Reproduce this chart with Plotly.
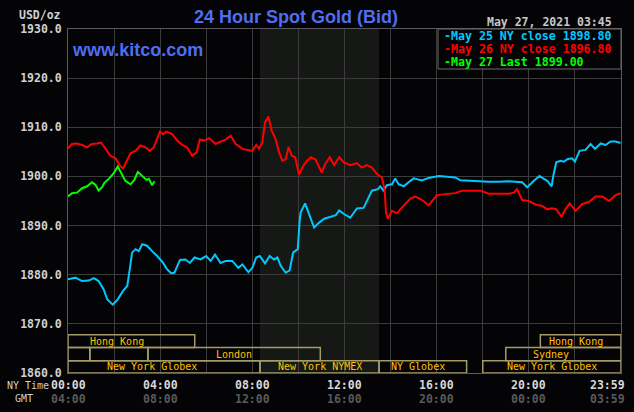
import plotly.graph_objects as go

# ---------------- data (NY time in hours, price USD/oz) ----------------
may25_hours = [0, 0.32, 0.61, 0.9, 1.12, 1.33, 1.55, 1.7, 1.94, 2.13, 2.39, 2.57, 2.68, 2.78, 2.93,
               3.07, 3.22, 3.43, 3.65, 3.87, 4.13, 4.3, 4.48, 4.62, 4.86, 5.1, 5.29, 5.49, 5.75, 6.0,
               6.19, 6.38, 6.62, 6.84, 7.13, 7.39, 7.57, 7.83, 8.0, 8.17, 8.32, 8.55, 8.75, 8.94, 9.09,
               9.23, 9.45, 9.62, 9.77, 9.97, 10.06, 10.1, 10.29, 10.46, 10.68, 10.9, 11.12, 11.41, 11.62,
               11.77, 11.99, 12.25, 12.54, 12.83, 12.97, 13.19, 13.45, 13.55, 13.7, 13.84, 14.06, 14.2,
               14.35, 14.57, 14.78, 15.0, 15.36, 15.65, 16.09, 16.52, 16.81, 17.03, 17.39, 17.9, 18.26,
               18.7, 19.13, 19.71, 19.93, 20.22, 20.46, 20.65, 20.8, 20.99, 21.06, 21.19, 21.38, 21.52,
               21.67, 21.88, 22.0, 22.2, 22.46, 22.68, 22.87, 23.12, 23.33, 23.55, 23.77, 23.98]
may25_price = [1879.05, 1879.4, 1878.7, 1878.8, 1879.3, 1878.7, 1877.0, 1875.0, 1873.9, 1874.8, 1876.7,
               1877.7, 1881.1, 1884.5, 1885.2, 1884.8, 1886.2, 1885.9, 1884.8, 1883.8, 1882.4, 1881.1,
               1880.3, 1880.4, 1883.0, 1883.1, 1882.4, 1883.5, 1883.1, 1883.8, 1882.8, 1884.1, 1882.4,
               1882.8, 1882.8, 1881.4, 1882.1, 1880.5, 1881.4, 1883.5, 1883.8, 1882.3, 1883.8, 1883.1,
               1883.5, 1881.8, 1880.4, 1880.9, 1884.5, 1885.2, 1891.3, 1892.7, 1894.5, 1892.3, 1889.6,
               1890.6, 1891.4, 1891.8, 1892.1, 1893.1, 1892.3, 1891.6, 1893.5, 1893.6, 1895.0, 1897.1,
               1897.4, 1898.0, 1897.1, 1898.2, 1898.4, 1899.6, 1898.4, 1898.0, 1898.8, 1899.6, 1899.2,
               1899.7, 1900.1, 1899.9, 1899.8, 1899.2, 1899.1, 1899.1, 1898.9, 1898.9, 1899.0, 1898.8,
               1897.8, 1899.1, 1900.1, 1899.5, 1899.1, 1898.0, 1900.1, 1902.9, 1903.2, 1903.0, 1903.5,
               1903.7, 1903.0, 1905.2, 1905.4, 1906.6, 1905.6, 1906.7, 1906.4, 1907.1, 1907.1, 1906.8]

may26_hours = [0, 0.17, 0.39, 0.61, 0.83, 1.04, 1.26, 1.43, 1.62, 1.84, 2.06, 2.25, 2.39, 2.57, 2.71,
               2.93, 3.14, 3.36, 3.55, 3.72, 3.84, 3.99, 4.13, 4.28, 4.52, 4.74, 4.96, 5.17, 5.39, 5.58,
               5.72, 5.9, 6.12, 6.41, 6.62, 6.84, 7.06, 7.28, 7.57, 7.86, 8.0, 8.17, 8.29, 8.43, 8.55,
               8.7, 8.84, 9.01, 9.16, 9.3, 9.45, 9.57, 9.71, 9.86, 10.03, 10.17, 10.32, 10.54, 10.75,
               11.01, 11.16, 11.36, 11.55, 11.77, 11.96, 12.25, 12.54, 12.75, 12.97, 13.19, 13.41, 13.62,
               13.74, 13.8, 13.88, 14.06, 14.28, 14.42, 14.64, 14.86, 15.07, 15.29, 15.48, 15.65, 15.87,
               16.01, 16.38, 16.81, 17.1, 17.9, 18.26, 18.7, 19.13, 19.35, 19.49, 19.71, 20.0, 20.29,
               20.58, 20.8, 21.01, 21.19, 21.42, 21.59, 21.77, 22.03, 22.32, 22.61, 22.9, 23.19, 23.48,
               23.77, 23.98]
may26_price = [1905.7, 1906.6, 1906.7, 1906.4, 1905.9, 1906.6, 1906.7, 1906.9, 1905.7, 1904.2, 1903.7,
               1902.2, 1901.6, 1903.2, 1904.7, 1905.2, 1906.3, 1905.9, 1905.2, 1905.9, 1907.3, 1909.1,
               1908.6, 1909.1, 1908.6, 1907.3, 1906.4, 1905.9, 1904.2, 1904.9, 1907.5, 1907.3, 1907.8,
               1906.6, 1907.1, 1907.5, 1908.3, 1906.6, 1905.6, 1905.4, 1905.2, 1906.4, 1905.6, 1906.9,
               1911.0, 1912.2, 1909.3, 1907.6, 1904.9, 1903.2, 1903.5, 1906.0, 1904.2, 1903.9, 1900.3,
               1901.8, 1902.9, 1903.9, 1903.4, 1900.8, 1902.5, 1903.9, 1902.3, 1903.9, 1902.9, 1902.3,
               1902.7, 1901.8, 1902.3, 1901.8, 1900.5, 1899.8, 1897.4, 1892.7, 1891.4, 1893.0, 1892.5,
               1893.3, 1894.4, 1895.5, 1895.9, 1895.4, 1894.8, 1894.1, 1895.4, 1896.2, 1896.4, 1896.6,
               1897.1, 1897.1, 1896.5, 1896.5, 1896.5, 1896.7, 1897.4, 1895.2, 1895.0, 1894.3, 1894.0,
               1893.3, 1893.5, 1893.3, 1891.8, 1893.3, 1894.5, 1893.0, 1894.4, 1894.8, 1895.9, 1895.9,
               1895.0, 1896.2, 1896.6]

may27_hours = [0, 0.17, 0.39, 0.61, 0.83, 1.04, 1.19, 1.33, 1.48, 1.58, 1.77, 1.96, 2.16, 2.3, 2.49,
               2.71, 2.88, 3.03, 3.22, 3.41, 3.51, 3.65, 3.75]
may27_price = [1895.9, 1896.6, 1896.7, 1897.6, 1898.0, 1898.8, 1898.3, 1897.1, 1897.8, 1898.7, 1899.5,
               1900.5, 1902.0, 1900.8, 1899.1, 1898.4, 1899.3, 1900.9, 1900.1, 1899.3, 1899.5, 1898.2,
               1899.0]

series_names = ["May 25 NY close 1898.80", "May 26 NY close 1896.80", "May 27 Last 1899.00"]
series_colors = ["#00c8ff", "#ff0000", "#00ff00"]

y_ticks = [1860, 1870, 1880, 1890, 1900, 1910, 1920, 1930]
ny_time_ticks = [0, 4, 8, 12, 16, 20]
ny_time_labels = ["00:00", "04:00", "08:00", "12:00", "16:00", "20:00"]
gmt_labels = ["04:00", "08:00", "12:00", "16:00", "20:00", "00:00"]

nymex_session = (8.33, 13.5)
# (label, start hour, end hour, row, label hour)
sessions = [
    ("Hong Kong", 0, 5.5, 2, 2.13),
    ("Hong Kong", 20.5, 24, 2, 22.05),
    ("", 0, 0.95, 1, None),
    ("", 0.95, 3.47, 1, None),
    ("London", 3.47, 10.95, 1, 7.2),
    ("Sydney", 19.0, 24, 1, 20.95),
    ("New York Globex", 0, 8.33, 0, 3.65),
    ("New York NYMEX", 8.33, 13.5, 0, 10.93),
    ("NY Globex", 13.5, 17.3, 0, 15.2),
    ("New York Globex", 18.0, 24, 0, 21.0),
]
row_edges = [1860, 1862.5, 1865.2, 1867.8]

# ---------------- layout helpers ----------------
W, H = 634, 412
L, R, T, B = 68, 621, 29, 373
BG = "#040306"
MONO = "DejaVu Sans Mono"
SANS = "Liberation Sans"


def pxx(x):
    return (x - L) / (R - L)


def pxy(y):
    return (B - y) / (B - T)


fig = go.Figure()
for hrs, vals, name, col in zip([may25_hours, may26_hours, may27_hours],
                                [may25_price, may26_price, may27_price],
                                series_names, series_colors):
    fig.add_trace(go.Scatter(x=hrs, y=vals, mode="lines", name=name,
                             line=dict(color=col, width=2), showlegend=False,
                             hoverinfo="skip"))

shapes = []
shapes.append(dict(type="rect", xref="x", yref="paper", x0=nymex_session[0], x1=nymex_session[1],
                   y0=0, y1=1, fillcolor="#151814", line=dict(width=0), layer="below"))
annotations = []
for label, s, e, row, lx in sessions:
    shapes.append(dict(type="rect", xref="x", yref="y", x0=s, x1=e,
                       y0=row_edges[row], y1=row_edges[row + 1],
                       line=dict(color="#a49c68", width=1.5), fillcolor="rgba(0,0,0,0)",
                       layer="above"))
    if label:
        annotations.append(dict(x=lx, y=(row_edges[row] + row_edges[row + 1]) / 2,
                                xref="x", yref="y", text=label, showarrow=False,
                                font=dict(family=MONO, size=10, color="#ffc400"),
                                xanchor="center", yanchor="middle", borderpad=0))

# legend box
shapes.append(dict(type="rect", xref="paper", yref="paper", x0=pxx(438), x1=1,
                   y0=pxy(69), y1=1, fillcolor=BG, line=dict(color="#6a6a6a", width=1),
                   layer="above"))
for i, (name, col) in enumerate(zip(series_names, series_colors)):
    annotations.append(dict(x=pxx(443), y=pxy(35.6 + i * 13.4), xref="paper", yref="paper",
                            text="-" + name, showarrow=False, xanchor="left", yanchor="middle",
                            borderpad=0,
                            font=dict(family=MONO, size=11.6, color=col, weight="bold")))

# titles & texts
annotations += [
    dict(x=pxx(296), y=pxy(17), xref="paper", yref="paper", text="24 Hour Spot Gold (Bid)",
         showarrow=False, xanchor="center", yanchor="middle",
         font=dict(family=SANS, size=18, color="#4f6ef0", weight="bold")),
    dict(x=pxx(485), y=pxy(22), xref="paper", yref="paper", text="May 27, 2021 03:45",
         showarrow=False, xanchor="left", yanchor="middle",
         font=dict(family=MONO, size=11.5, color="#c8c8c8", weight="bold")),
    dict(x=pxx(70), y=pxy(50), xref="paper", yref="paper", text="www.kitco.com",
         showarrow=False, xanchor="left", yanchor="middle",
         font=dict(family=SANS, size=18, color="#4f6ef0", weight="bold")),
    dict(x=pxx(63), y=pxy(15), xref="paper", yref="paper", text="USD/oz",
         showarrow=False, xanchor="right", yanchor="middle",
         font=dict(family=MONO, size=11.5, color="#d0d0d0", weight="bold")),
    dict(x=pxx(5), y=pxy(385), xref="paper", yref="paper", text="NY Time",
         showarrow=False, xanchor="left", yanchor="middle",
         font=dict(family=MONO, size=10, color="#d0d0d0")),
    dict(x=pxx(13), y=pxy(399), xref="paper", yref="paper", text="GMT",
         showarrow=False, xanchor="left", yanchor="middle",
         font=dict(family=MONO, size=10, color="#d0d0d0")),
]
for h, ny, gm in zip(ny_time_ticks, ny_time_labels, gmt_labels):
    annotations.append(dict(x=h, y=pxy(385), xref="x", yref="paper", text=ny, showarrow=False,
                            xanchor="center", yanchor="middle",
                            font=dict(family=MONO, size=11.5, color="#d8d8d8", weight="bold")))
    annotations.append(dict(x=h, y=pxy(399), xref="x", yref="paper", text=gm, showarrow=False,
                            xanchor="center", yanchor="middle",
                            font=dict(family=MONO, size=11.5, color="#5a5a5a", weight="bold")))
annotations.append(dict(x=24, y=pxy(385), xref="x", yref="paper", text="23:59", showarrow=False,
                        xanchor="right", yanchor="middle", xshift=6,
                        font=dict(family=MONO, size=11.5, color="#d8d8d8", weight="bold")))
annotations.append(dict(x=24, y=pxy(399), xref="x", yref="paper", text="03:59", showarrow=False,
                        xanchor="right", yanchor="middle", xshift=6,
                        font=dict(family=MONO, size=11.5, color="#5a5a5a", weight="bold")))

fig.update_layout(
    width=W, height=H,
    margin=dict(l=L, r=W - R, t=T, b=H - B, pad=0),
    paper_bgcolor=BG, plot_bgcolor=BG,
    shapes=shapes, annotations=annotations,
    xaxis=dict(range=[0, 24], tick0=0, dtick=2, showgrid=True, gridcolor="#3c3c3c", gridwidth=1,
               showticklabels=False, zeroline=False, showline=True, mirror=True,
               linecolor="#5a5a5a", linewidth=1, ticks=""),
    yaxis=dict(range=[1860, 1930], tickvals=y_ticks, tickformat=".1f", showgrid=True,
               gridcolor="#3c3c3c", gridwidth=1, zeroline=False, showline=True, mirror=True,
               linecolor="#5a5a5a", linewidth=1, ticks="outside", ticklen=3, tickcolor=BG,
               tickfont=dict(family=MONO, size=11.5, color="#d0d0d0", weight="bold")),
    showlegend=False,
)

fig.write_html("out.html")
